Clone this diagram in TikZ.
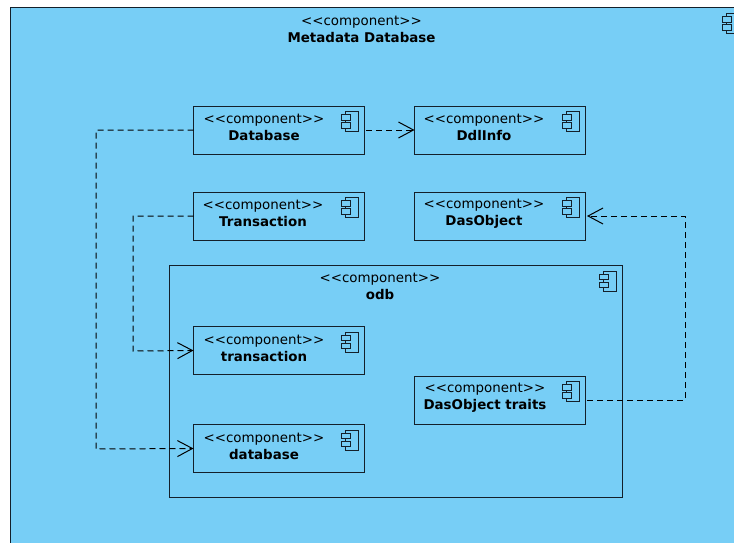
\documentclass[tikz,border=0pt]{standalone}
\usepackage{fontspec}
\setmainfont{DejaVu Sans}
\usetikzlibrary{arrows.meta}
\definecolor{compfill}{HTML}{77CEF6}
\definecolor{compline}{HTML}{14202A}
\newcommand{\stereo}{<{}<{}component>{}>}
\tikzset{
  x=1pt,y=-1pt,
  compbox/.style={draw=compline,fill=compfill,line width=1pt,anchor=north west,inner sep=0pt,outer sep=0pt},
  comptext/.style={align=center,font=\fontsize{13.4pt}{16.7pt}\selectfont,inner sep=0pt,text=black},
  iconline/.style={draw=compline,line width=1pt,fill=compfill},
  dep/.style={dash pattern=on 6pt off 4pt,line width=1pt,draw=black,-{Straight Barb[length=15pt,width=16pt,line width=1pt]}},
}
\newcommand{\compicon}[2]{%
  \draw[iconline] (#1+3.5,#2) rectangle (#1+17,#2+20);
  \draw[iconline] (#1,#2+3) rectangle (#1+9.4,#2+8.3);
  \draw[iconline] (#1,#2+11) rectangle (#1+9.4,#2+16.3);
}
\newcommand{\compnode}[7]{% name, x, y, w, h, textcenter x, name text
  \node[compbox,minimum width=#4pt,minimum height=#5pt] (#1) at (#2,#3) {};
  \node[comptext] (#1-label) at (#6,#3+21.6) {\stereo\\\textbf{#7}};
  \compicon{#2+148}{#3+5.7}
}
\begin{document}
\begin{tikzpicture}
\useasboundingbox (0,0) rectangle (734,543);
\clip (0,0) rectangle (734,543);
\fill[white] (0,0) rectangle (734,543);
\node[compbox,minimum width=760pt,minimum height=560pt] (outer) at (10,8) {};
\node[comptext] (outer-label) at (361.5,29.3) {\stereo\\\textbf{Metadata Database}};
\compicon{722.5}{14}
\node[compbox,minimum width=453pt,minimum height=232pt] (odb) at (169,265) {};
\node[comptext] (odb-label) at (380,286.6) {\stereo\\\textbf{odb}};
\compicon{599.5}{271}
\compnode{Database}{193.5}{106}{170.5}{48}{264}{Database}
\compnode{DdlInfo}{414.5}{106}{170.5}{48}{484}{DdlInfo}
\compnode{Transaction}{193.5}{192}{170.5}{48}{263}{Transaction}
\compnode{DasObject}{414.5}{192}{170.5}{48}{484}{DasObject}
\compnode{transaction}{193.5}{326.5}{170.5}{48}{264}{transaction}
\compnode{database}{193.5}{424.5}{170.5}{48}{264}{database}
\compnode{traits}{414.5}{376}{170.5}{48}{485}{DasObject traits}
\coordinate (a1) at (96,130);
\coordinate (a2) at (96,449);
\coordinate (b1) at (133,216);
\coordinate (b2) at (133,351);
\coordinate (c1) at (685,400);
\coordinate (c2) at (685,216);
\draw[dep,shorten <=2pt] (Database.east) -- (DdlInfo.west);
\draw[dep] (Database.west) -- (a1) -- (a2) -- (database.west);
\draw[dep] (Transaction.west) -- (b1) -- (b2) -- (transaction.west);
\draw[dep,shorten <=2pt,shorten >=2pt] (traits.east) -- (c1) -- (c2) -- (DasObject.east);
\end{tikzpicture}
\end{document}
